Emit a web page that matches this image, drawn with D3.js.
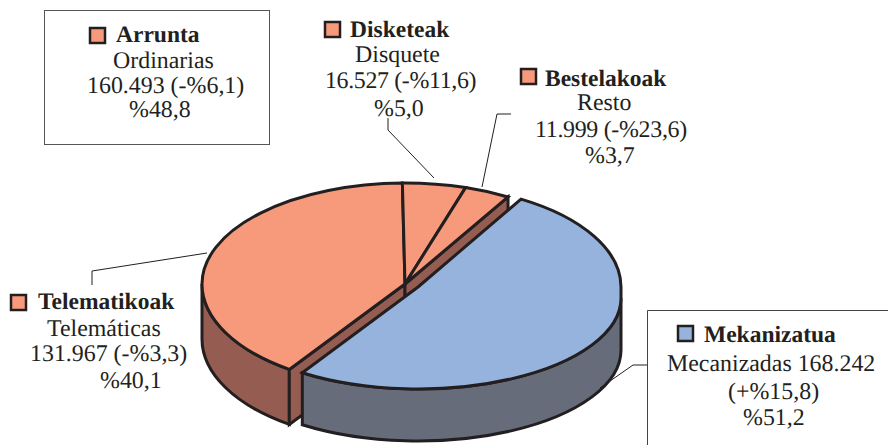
<!DOCTYPE html>
<html><head><meta charset="utf-8">
<script src="https://cdn.jsdelivr.net/npm/d3@7"></script>
<style>html,body{margin:0;background:#fff}svg{display:block}
text{font-family:"Liberation Serif",serif;font-size:23.9px;fill:#231f20;text-rendering:geometricPrecision}
.h{font-weight:bold;font-size:23.5px}</style></head><body><div id="c"></div>
<script>
const categories=["Mekanizatua","Telematikoak","Disketeak","Bestelakoak"];
const values=[168242,131967,16527,11999];
const subtitles=["Mecanizadas 168.242","Telemáticas","Disquete","Resto"];
const detailLines=["(+%15,8)","131.967 (-%3,3)","16.527 (-%11,6)","11.999 (-%23,6)"];
const shareLabels=["%51,2","%40,1","%5,0","%3,7"];
const arruntaLines=["Arrunta","Ordinarias","160.493 (-%6,1)","%48,8"];
const topColors=["#95b3dd","#f79a7b","#f79a7b","#f79a7b"];
const sideColors=["#666c7a","#955d52","#955d52","#955d52"];

const W=888,H=445,ink="#231f20";
const svg=d3.select("#c").append("svg").attr("width",W).attr("height",H);
const rad=d=>d*Math.PI/180;
const pie=d3.pie().sort(null).startAngle(rad(30.5)).endAngle(rad(390.5));
const arcs=pie(values);
// each disc: the drawn ellipse has a slightly different back and front half
const O={x:405,y:284,rx:203,back:{y:284,ry:101},front:{y:284,ry:104},depth:55};
const B={x:418,y:287,rx:203,back:{y:287,ry:102},front:{y:298,ry:91},depth:52};
const half=a=>Math.cos(a)>=0?"back":"front";
const pt=(c,a,h=half(a))=>[c.x+c.rx*Math.sin(a),c[h].y-c[h].ry*Math.cos(a)];
// split an angular span at the left and right extremes of the ellipse
function pieces(a0,a1){
  const cuts=[a0];
  [90,270,450,630].map(rad).forEach(k=>{if(k>a0+1e-6&&k<a1-1e-6)cuts.push(k)});
  cuts.push(a1);
  return d3.pairs(cuts).map(([s,e])=>({s,e,h:half((s+e)/2)}));
}
function rim(c,a0,a1){
  return pieces(a0,a1).map(p=>{
    const s=pt(c,p.s,p.h),e=pt(c,p.e,p.h);
    return `L${s}A${c.rx},${c[p.h].ry} 0 0 1 ${e}`;
  }).join("");
}
const facePath=(c,d)=>`M${c.x},${c.y}${rim(c,d.startAngle,d.endAngle)}Z`;
function wall(c,a0,a1){
  const ps=pieces(a0,a1).filter(p=>p.h==="front");
  const top=ps.map(p=>{const s=pt(c,p.s,"front"),e=pt(c,p.e,"front");return `L${s}A${c.rx},${c.front.ry} 0 0 1 ${e}`}).join("");
  const bot=ps.slice().reverse().map(p=>{const s=pt(c,p.s,"front"),e=pt(c,p.e,"front");return `L${e[0]},${e[1]+c.depth}A${c.rx},${c.front.ry} 0 0 0 ${s[0]},${s[1]+c.depth}`}).join("");
  return "M"+top.slice(1)+bot+"Z";
}
const sty=(s,f)=>s.attr("fill",f).attr("stroke",ink).attr("stroke-width",3).attr("stroke-linejoin","miter");
const gO=svg.append("g"),gB=svg.append("g");
const tele=arcs[1],disk=arcs[2],rest=arcs[3],blue=arcs[0];
const eL=pt(O,tele.startAngle),eR=pt(O,rest.endAngle);
sty(gO.append("path").attr("d",wall(O,tele.startAngle,rad(270))),sideColors[1]);
[eL,eR].forEach(e=>sty(gO.append("path").attr("d",`M${e}L${O.x},${O.y}L${O.x},${O.y+O.depth}L${e[0]},${e[1]+O.depth}Z`),sideColors[1]));
[tele,disk,rest].forEach((d,i)=>sty(gO.append("path").attr("d",facePath(O,d)),topColors[i+1]));
sty(gB.append("path").attr("d",wall(B,rad(90),blue.endAngle)),sideColors[0]);
sty(gB.append("path").attr("d",facePath(B,blue)),topColors[0]);

const line=d3.line();
[[[388,118],[388,130],[434,178]],[[511,114],[497,114],[482,187]],[[647,365],[633,365],[600,388]],[[92,285],[92,271],[207,253]]]
 .forEach(p=>svg.append("path").attr("d",line(p)).attr("fill","none").attr("stroke",ink).attr("stroke-width",1));
svg.append("rect").attr("x",44.5).attr("y",10.5).attr("width",225).attr("height",134).attr("fill","#fff").attr("stroke","#555").attr("stroke-width",1);
svg.append("path").attr("d","M647.5,445V310.5H888").attr("fill","#fff").attr("stroke","#444").attr("stroke-width",1);
function label(color,sw,lines,pos){
  svg.append("rect").attr("x",sw[0]+1).attr("y",sw[1]+1).attr("width",15).attr("height",15).attr("fill",color).attr("stroke",ink).attr("stroke-width",2.5);
  lines.forEach((t,i)=>svg.append("text").attr("class",i?null:"h").attr("x",pos[i][0]).attr("y",pos[i][1])
    .attr("letter-spacing",pos[i][2]||null).text(t));
}
label(topColors[1],[89,27],arruntaLines,[[116,42],[113,68],[87,93],[129,117]]);
label(topColors[2],[324,21],[categories[2],subtitles[2],detailLines[2],shareLabels[2]],[[350,37],[355,62],[325,88,-0.35],[374,116]]);
label(topColors[3],[520,68],[categories[3],subtitles[3],detailLines[3],shareLabels[3]],[[545,86],[577,110],[535,137,-0.3],[585,163]]);
label(topColors[0],[677,325],[categories[0],subtitles[0],detailLines[0],shareLabels[0]],[[704,342],[667,371],[728,399],[743,425]]);
label(topColors[1],[10,294],[categories[1],subtitles[1],detailLines[1],shareLabels[1]],[[38,309],[47,336],[30,361],[100,388]]);
</script></body></html>
